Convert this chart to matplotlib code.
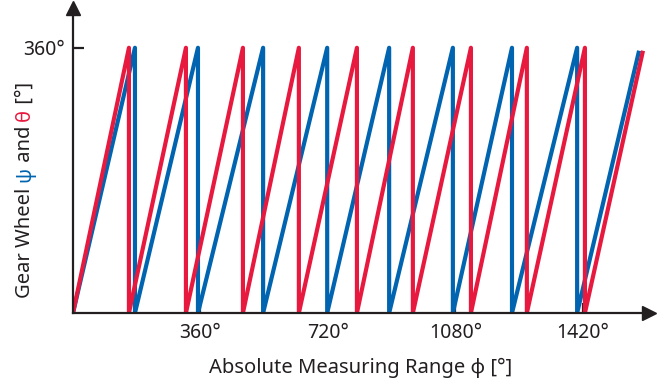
import matplotlib
matplotlib.use("Agg")
import matplotlib.pyplot as plt

plt.rcParams['font.family'] = ['Noto Sans', 'DejaVu Sans']

# positions (deg of phi) where each gear wheel wraps from 360 back to 0
blue_peaks = [175, 353, 537, 718, 893, 1073, 1240, 1424]
red_peaks = [158, 319, 480, 638, 802, 960, 1124, 1282, 1446]
blue_end = (1599, 356)
red_end = (1610, 356)

x_ticks = [360, 720, 1080, 1440]
x_ticklabels = ['360°', '720°', '1080°', '1420°']
y_ticks = [360]
y_ticklabels = ['360°']

BLUE = '#0064b0'
RED = '#e8193f'
DARK = '#231f20'


def sawtooth(peaks, end):
    xs, ys = [0], [0]
    for p in peaks:
        xs += [p, p]
        ys += [360, 0]
    xs.append(end[0])
    ys.append(end[1])
    return xs, ys


fig = plt.figure(figsize=(6.57, 3.83), dpi=100)
ax = fig.add_axes([73 / 657, 70 / 383, 576 / 657, 305 / 383])

bx, by = sawtooth(blue_peaks, blue_end)
rx, ry = sawtooth(red_peaks, red_end)
ax.plot(bx, by, color=BLUE, lw=3.0, solid_joinstyle='round', solid_capstyle='butt')
ax.plot(rx, ry, color=RED, lw=3.0, solid_joinstyle='round', solid_capstyle='butt')

ax.set_xlim(0, 1627)
ax.set_ylim(0, 414)

for s in ['top', 'right']:
    ax.spines[s].set_visible(False)
for s in ['left', 'bottom']:
    ax.spines[s].set_linewidth(1.6)
    ax.spines[s].set_color(DARK)

# arrow heads
ax.plot(1, 0, '>', color=DARK, ms=10, transform=ax.transAxes, clip_on=False)
ax.plot(0, 1, '^', color=DARK, ms=10, transform=ax.transAxes, clip_on=False)

ax.set_xticks(x_ticks)
ax.set_xticklabels(x_ticklabels)
ax.set_yticks(y_ticks)
ax.set_yticklabels(y_ticklabels)
ax.tick_params(axis='x', direction='in', length=7, width=1.6, color=DARK,
               labelsize=14, labelcolor=DARK, pad=7)
ax.tick_params(axis='y', direction='in', length=8, width=1.6, color=DARK,
               labelsize=14, labelcolor=DARK, pad=6)

ax.set_xlabel('Absolute Measuring Range φ [°]', fontsize=14.5, color=DARK, labelpad=11)

# y label with coloured greek letters
fig.canvas.draw()
t = fig.text(25 / 657, 1 - 298 / 383, 'Gear Wheel ', rotation=90, fontsize=14.5,
             color=DARK, ha='center', va='bottom')
for part, col in [('ψ', BLUE), (' and ', DARK), ('θ', RED), (' [°]', DARK)]:
    t = fig.text(0, 0, part, rotation=90, fontsize=14.5, color=col,
                 ha='center', va='bottom', transform=None)
    prev = fig.texts[-2]
    bb = prev.get_window_extent()
    t.set_position((bb.x0 + bb.width / 2, bb.y1))

fig.savefig('out.png', dpi=100)
